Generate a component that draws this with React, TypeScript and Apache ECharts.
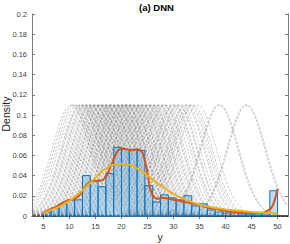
import React, { useEffect, useRef } from "react";
import * as echarts from "echarts";

// Histogram bins: [start, end, density]
const binStarts = [5, 6.5, 8, 9.5, 11, 12.5, 14, 15.5, 17, 18.5, 20, 21.5, 23, 24.5, 26, 27.5, 29, 30.5, 32, 33.5, 35, 36.5, 38, 39.5, 41, 42.5, 44, 45.5, 47, 48.5];
const binWidth = 1.5;
const binDensity = [0.004, 0.008, 0.012, 0.016, 0.016, 0.040, 0.035, 0.029, 0.042, 0.068, 0.066, 0.066, 0.065, 0.030, 0.014, 0.021, 0.018, 0.016, 0.020, 0.010, 0.012, 0.006, 0.004, 0.003, 0.003, 0.002, 0.002, 0.002, 0.002, 0.025];

// Predictive Gaussian components (means), common sigma
const gaussMeans = [
  10.3, 10.7, 11.1, 11.5, 12.0, 12.4, 12.8, 13.2, 13.5, 13.9, 14.2, 14.5, 14.8,
  15.1, 15.4, 15.6, 15.9, 16.1, 16.4, 16.6, 16.9, 17.1, 17.4,
  17.6, 17.9, 18.1, 18.3, 18.6, 18.8, 19.0, 19.3, 19.5, 19.7,
  20.0, 20.2, 20.4, 20.7, 20.9, 21.1, 21.4, 21.6, 21.9, 22.1,
  22.4, 22.6, 22.9, 23.2, 23.5, 23.8, 24.1, 24.4, 24.7, 25.0,
  25.4, 25.8, 26.2, 26.6, 27.0, 27.5, 28.0, 28.5, 29.0, 29.6,
  30.2, 30.8, 31.5, 32.2, 33.0, 33.8, 34.6, 38.7, 38.9, 43.9, 44.1,
  12.2, 13.0, 14.0, 15.0, 16.0, 17.0, 18.0, 19.1, 20.1, 21.0, 22.0, 23.0, 24.0, 25.2, 26.0, 27.2, 28.2, 30.0, 31.0, 32.5, 33.4,
];
const gaussSigma = 3.63;

// Red (kernel density) curve
const redX = [5, 6, 7, 8, 9, 10, 11, 12, 13, 14, 15, 16, 17, 18, 19, 20, 21, 22, 23, 24, 24.8, 25.5, 26.2, 27, 28, 29, 30, 31, 32, 33, 34, 35, 36, 37, 38, 40, 42, 44, 46, 47, 48, 48.8, 49.4, 50];
const redY = [0.003, 0.006, 0.008, 0.011, 0.014, 0.016, 0.017, 0.021, 0.029, 0.034, 0.035, 0.035, 0.039, 0.050, 0.062, 0.067, 0.066, 0.065, 0.066, 0.063, 0.048, 0.027, 0.019, 0.017, 0.018, 0.017, 0.016, 0.015, 0.014, 0.013, 0.012, 0.011, 0.009, 0.008, 0.007, 0.005, 0.004, 0.003, 0.003, 0.003, 0.005, 0.008, 0.015, 0.027];

// Yellow (mixture) curve
const yelX = [5, 6, 7, 8, 9, 10, 11, 12, 13, 14, 15, 16, 17, 18, 19, 20, 21, 22, 23, 24, 25, 26, 27, 28, 29, 30, 31, 32, 33, 34, 35, 36, 38, 40, 42, 44, 46, 48, 50];
const yelY = [0.003, 0.005, 0.007, 0.009, 0.012, 0.015, 0.019, 0.023, 0.028, 0.033, 0.038, 0.043, 0.047, 0.050, 0.051, 0.0515, 0.051, 0.050, 0.047, 0.044, 0.040, 0.036, 0.032, 0.029, 0.025, 0.022, 0.019, 0.017, 0.015, 0.013, 0.011, 0.010, 0.008, 0.0065, 0.0055, 0.0045, 0.0038, 0.003, 0.0025];

const xTicks = [5, 10, 15, 20, 25, 30, 35, 40, 45, 50];
const X_MIN = 2.8;
const X_MAX = 52;

const FONT = "'Liberation Sans', Arial, Helvetica, sans-serif";
const AXIS_COLOR = "#7a7a7a";
const LABEL_COLOR = "#404040";

export default function App() {
  const ref = useRef<HTMLDivElement>(null);
  useEffect(() => {
    document.body.style.margin = "0";
    if (!ref.current) return;
    const chart = echarts.init(ref.current, null, { renderer: "svg" });

    const histData = binStarts.map((s, i) => [s, s + binWidth, binDensity[i]]);
    const gridX: number[] = [];
    for (let x = 3; x <= 52.001; x += 0.25) gridX.push(+x.toFixed(2));
    const norm = 1 / (gaussSigma * Math.sqrt(2 * Math.PI));
    const graySeries = gaussMeans.map((m) => ({
      type: "line",
      data: gridX.map((x) => [x, norm * Math.exp(-0.5 * ((x - m) / gaussSigma) ** 2)]),
      showSymbol: false,
      silent: true,
      lineStyle: { color: "rgba(95,95,95,0.55)", width: 0.6, type: [2.5, 1.5] },
      z: 2,
    }));

    const axisCommonX = {
      type: "value",
      min: X_MIN,
      max: X_MAX,
      splitLine: { show: false },
      axisLine: { show: true, lineStyle: { color: AXIS_COLOR, width: 1 } },
      axisTick: { show: true, inside: true, length: 3, customValues: xTicks, lineStyle: { color: AXIS_COLOR } },
    };
    const axisCommonY = {
      type: "value",
      min: 0,
      max: 0.2,
      interval: 0.02,
      splitLine: { show: false },
      axisLine: { show: true, lineStyle: { color: AXIS_COLOR, width: 1 } },
      axisTick: { show: true, inside: true, length: 3, lineStyle: { color: AXIS_COLOR } },
    };

    chart.setOption({
      animation: false,
      grid: { left: 32, right: 2, top: 14, bottom: 28 },
      xAxis: [
        {
          ...axisCommonX,
          position: "bottom",
          axisLabel: { customValues: xTicks, fontSize: 7.5, color: LABEL_COLOR, fontFamily: FONT, margin: 6 },
        },
        { ...axisCommonX, position: "top", axisLabel: { show: false } },
      ],
      yAxis: [
        {
          ...axisCommonY,
          position: "left",
          axisLabel: {
            fontSize: 7.5,
            color: LABEL_COLOR,
            fontFamily: FONT,
            margin: 5,
            formatter: (v: number) => (v === 0 ? "0" : String(+v.toFixed(2))),
          },
        },
        { ...axisCommonY, position: "right", axisLabel: { show: false } },
      ],
      graphic: [
        {
          type: "text",
          x: 156.5,
          y: 2,
          style: { text: "(a) DNN", font: `bold 9.5px ${FONT}`, fill: "#000", textAlign: "center", textVerticalAlign: "top" },
        },
        {
          type: "text",
          x: 6,
          y: 114,
          rotation: Math.PI / 2,
          style: { text: "Density", font: `10.5px ${FONT}`, fill: "#262626", textAlign: "center", textVerticalAlign: "middle" },
        },
        {
          type: "text",
          x: 160,
          y: 237,
          style: { text: "y", font: `10.5px ${FONT}`, fill: "#262626", textAlign: "center", textVerticalAlign: "middle" },
        },
      ],
      series: [
        {
          type: "custom",
          xAxisIndex: 0,
          yAxisIndex: 0,
          data: histData,
          z: 3,
          silent: true,
          renderItem: (params: any, api: any) => {
            const p0 = api.coord([api.value(0), api.value(2)]);
            const p1 = api.coord([api.value(1), 0]);
            return {
              type: "rect",
              shape: { x: p0[0], y: p0[1], width: p1[0] - p0[0], height: p1[1] - p0[1] },
              style: { fill: "rgba(90,165,225,0.38)", stroke: "#0a74c0", lineWidth: 1 },
            };
          },
        },
        ...graySeries,
        {
          type: "line",
          data: redX.map((x, i) => [x, redY[i]]),
          smooth: 0.25,
          showSymbol: false,
          silent: true,
          lineStyle: { color: "#D95319", width: 2 },
          z: 4,
        },
        {
          type: "line",
          data: yelX.map((x, i) => [x, yelY[i]]),
          smooth: 0.3,
          showSymbol: false,
          silent: true,
          lineStyle: { color: "#EDB120", width: 2 },
          z: 5,
        },
      ],
    });
    return () => chart.dispose();
  }, []);
  return <div ref={ref} style={{ width: 290, height: 244 }} />;
}
